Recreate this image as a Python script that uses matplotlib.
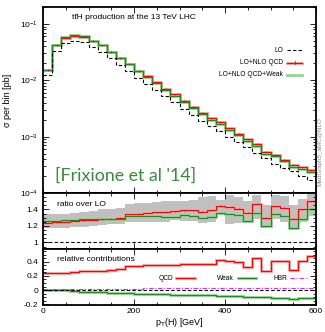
import numpy as np
import matplotlib
matplotlib.use("Agg")
import matplotlib.pyplot as plt
from matplotlib.ticker import MultipleLocator, LogLocator, NullFormatter, FixedLocator
from matplotlib.lines import Line2D

plt.rcParams['font.family'] = ['Liberation Sans', 'DejaVu Sans']

# ---------------- data ----------------
edges = np.arange(0, 620, 20)  # pT(H) bins [GeV]

lo = [0.0123, 0.0337, 0.0458, 0.0494, 0.0471, 0.0392, 0.0324, 0.0245, 0.0190, 0.01476,
      0.01094, 0.00869, 0.00675, 0.00516, 0.00410, 0.00309, 0.00240, 0.00193, 0.00152, 0.00125,
      0.000986, 0.000794, 0.000661, 0.000508, 0.000418, 0.000333, 0.000275, 0.000247, 0.000204, 0.000168]

ratio_qcd = [1.24, 1.245, 1.25, 1.26, 1.27, 1.275, 1.28, 1.29, 1.30, 1.345,
             1.35, 1.36, 1.365, 1.37, 1.38, 1.39, 1.39, 1.37, 1.39, 1.444,
             1.43, 1.41, 1.36, 1.47, 1.30, 1.44, 1.42, 1.29, 1.40, 1.50]

ratio_qcd_weak = [1.26, 1.265, 1.27, 1.275, 1.28, 1.28, 1.285, 1.29, 1.29, 1.32,
                  1.32, 1.32, 1.32, 1.31, 1.31, 1.33, 1.32, 1.30, 1.31, 1.36,
                  1.35, 1.33, 1.26, 1.36, 1.20, 1.34, 1.32, 1.17, 1.29, 1.40]

band_low = [1.17, 1.17, 1.18, 1.19, 1.19, 1.20, 1.21, 1.22, 1.22, 1.25,
            1.25, 1.25, 1.25, 1.25, 1.27, 1.26, 1.26, 1.24, 1.25, 1.33,
            1.22, 1.24, 1.23, 1.28, 1.17, 1.28, 1.25, 1.15, 1.25, 1.32]
band_high = [1.34, 1.34, 1.35, 1.36, 1.37, 1.38, 1.40, 1.41, 1.42, 1.47,
             1.48, 1.48, 1.49, 1.50, 1.50, 1.50, 1.52, 1.55, 1.56, 1.52,
             1.58, 1.55, 1.50, 1.58, 1.45, 1.58, 1.56, 1.45, 1.53, 1.60]

rel_qcd = [0.235, 0.24, 0.245, 0.255, 0.265, 0.27, 0.275, 0.285, 0.295, 0.335,
           0.34, 0.35, 0.355, 0.36, 0.35, 0.365, 0.37, 0.366, 0.366, 0.42,
           0.41, 0.40, 0.32, 0.455, 0.27, 0.41, 0.41, 0.28, 0.41, 0.48]
rel_weak = [0.005, 0.0, -0.005, -0.01, -0.02, -0.025, -0.03, -0.035, -0.04, -0.045,
            -0.05, -0.055, -0.058, -0.06, -0.062, -0.065, -0.068, -0.07, -0.075, -0.08,
            -0.085, -0.09, -0.093, -0.096, -0.10, -0.11, -0.115, -0.12, -0.115, -0.105]
rel_hbr = [0.015, 0.016, 0.017, 0.018, 0.018, 0.019, 0.020, 0.020, 0.021, 0.022,
           0.022, 0.023, 0.024, 0.024, 0.025, 0.025, 0.026, 0.026, 0.027, 0.027,
           0.028, 0.028, 0.029, 0.029, 0.030, 0.030, 0.030, 0.031, 0.031, 0.031]

# ---------------- style ----------------
RED = '#ff0000'
LRED = '#ffa0a0'
GREEN = '#1e8c1e'
LGREEN = '#92d492'
PURPLE = '#cc33ff'
FS = 6
LW = 0.8
BW = 2.0

W, H = 325, 332
fig = plt.figure(figsize=(W / 100, H / 100), dpi=100)
left, width = 43 / W, 273 / W
ax1 = fig.add_axes([left, 1 - 193 / H, width, 186 / H])
ax2 = fig.add_axes([left, 1 - 249 / H, width, 56 / H], sharex=ax1)
ax3 = fig.add_axes([left, 1 - 305 / H, width, 56 / H], sharex=ax1)

lo_a = np.array(lo)
rq = np.array(ratio_qcd)
rw = np.array(ratio_qcd_weak)
nlo_qcd = lo_a * rq
nlo_qcdw = lo_a * rw
centers = 0.5 * (edges[:-1] + edges[1:])

# main panel
ax1.stairs(nlo_qcd, edges, color=LRED, lw=BW, baseline=None)
ax1.stairs(nlo_qcdw, edges, color=LGREEN, lw=BW, baseline=None)
ax1.stairs(nlo_qcd, edges, color=RED, lw=LW, baseline=None)
ax1.errorbar(centers, nlo_qcd, yerr=0.03 * nlo_qcd, fmt='none', ecolor=RED, elinewidth=0.6)
ax1.stairs(nlo_qcdw, edges, color=GREEN, lw=LW, baseline=None)
ax1.stairs(lo_a, edges, color='black', lw=0.8, ls=(0, (3, 2)), baseline=None)
ax1.set_yscale('log')
ax1.set_ylim(1e-4, 0.2)
ax1.set_xlim(0, 600)
ax1.set_ylabel('σ per bin [pb]', fontsize=FS + 0.5, labelpad=6)
ax1.text(0.105, 0.945, 'tt\u0304H production at the 13 TeV LHC', transform=ax1.transAxes,
         ha='left', va='center', fontsize=FS, family=['Liberation Sans', 'DejaVu Sans'])
ax1.text(0.045, 0.095, "[Frixione et al '14]", transform=ax1.transAxes, ha='left', va='center',
         fontsize=12.8, color='#3a8a3a', family=['Lato', 'DejaVu Sans'])

# legend (manual)
leg_y = [50, 62.5, 75]
leg_lab = ['LO', 'LO+NLO QCD', 'LO+NLO QCD+Weak']
for yy, lab in zip(leg_y, leg_lab):
    fig.text(283 / W, 1 - yy / H, lab, ha='right', va='center', fontsize=FS - 1.2)
fig.add_artist(Line2D([287 / W, 302 / W], [1 - 50 / H] * 2, color='black', lw=0.8, ls=(0, (3, 2))))
fig.add_artist(Line2D([287 / W, 302 / W], [1 - 62.5 / H] * 2, color=LRED, lw=BW))
fig.add_artist(Line2D([287 / W, 302 / W], [1 - 62.5 / H] * 2, color=RED, lw=LW))
fig.add_artist(Line2D([294.5 / W, 294.5 / W], [1 - 61 / H, 1 - 64 / H], color=RED, lw=0.6))
fig.add_artist(Line2D([287 / W, 302 / W], [1 - 75 / H] * 2, color=LGREEN, lw=BW))

# watermark
fig.text(320 / W, 1 - 152 / H, 'MadGraph5_aMC@NLO', rotation=90, ha='center', va='center',
         fontsize=4.5, color='#8c8c8c')

# ratio panel
ax2.stairs(band_high, edges, baseline=band_low, fill=True, color='#c0c0c0', lw=0)
ax2.stairs(rq, edges, color=LRED, lw=BW, baseline=None)
ax2.stairs(rw, edges, color=LGREEN, lw=BW, baseline=None)
ax2.stairs(rq, edges, color=RED, lw=LW, baseline=None)
ax2.errorbar(centers, rq, yerr=0.006, fmt='none', ecolor=RED, elinewidth=0.6)
ax2.stairs(rw, edges, color=GREEN, lw=LW, baseline=None)
ax2.axhline(1.0, color='black', lw=0.8, ls=(0, (3, 2)))
ax2.set_ylim(0.92, 1.6)
ax2.yaxis.set_major_locator(FixedLocator([1.0, 1.2, 1.4]))
ax2.yaxis.set_minor_locator(MultipleLocator(0.05))
ax2.set_yticklabels(['1', '1.2', '1.4'])
ax2.text(0.05, 0.80, 'ratio over LO', transform=ax2.transAxes, fontsize=FS, ha='left', va='center')

# relative contributions panel
rq_rel = np.array(rel_qcd)
rw_rel = np.array(rel_weak)
rh_rel = np.array(rel_hbr)
ax3.stairs(rq_rel, edges, color=LRED, lw=BW, baseline=None)
ax3.stairs(rw_rel, edges, color=LGREEN, lw=BW, baseline=None)
ax3.stairs(rq_rel, edges, color=RED, lw=LW, baseline=None)
ax3.stairs(rw_rel, edges, color=GREEN, lw=LW, baseline=None)
ax3.stairs(rh_rel, edges, color=PURPLE, lw=LW, ls=(0, (4, 1.5, 1, 1.5)), baseline=None)
ax3.axhline(0.0, color='black', lw=0.8, ls=(0, (3, 2)))
ax3.set_ylim(-0.21, 0.58)
ax3.yaxis.set_major_locator(FixedLocator([-0.2, 0.0, 0.2, 0.4]))
ax3.yaxis.set_minor_locator(MultipleLocator(0.05))
ax3.set_yticklabels(['-0.2', '0', '0.2', '0.4'])
ax3.text(0.05, 0.82, 'relative contributions', transform=ax3.transAxes, fontsize=FS, ha='left', va='center')
# legend row
ly = 1 - 278 / H
fig.text(173 / W, ly, 'QCD', ha='right', va='center', fontsize=FS - 1.2)
fig.add_artist(Line2D([176 / W, 195 / W], [ly] * 2, color=LRED, lw=BW))
fig.add_artist(Line2D([176 / W, 195 / W], [ly] * 2, color=RED, lw=LW))
fig.text(234 / W, ly, 'Weak', ha='right', va='center', fontsize=FS - 1.2)
fig.add_artist(Line2D([238 / W, 256 / W], [ly] * 2, color=LGREEN, lw=BW))
fig.add_artist(Line2D([238 / W, 256 / W], [ly] * 2, color=GREEN, lw=LW))
fig.text(287 / W, ly, 'HBR', ha='right', va='center', fontsize=FS - 1.2)
fig.add_artist(Line2D([290 / W, 308 / W], [ly] * 2, color=PURPLE, lw=LW, ls=(0, (4, 1.5, 1, 1.5))))

ax3.set_xlabel(r'p$_{\rm T}$(H) [GeV]', fontsize=FS + 0.5, labelpad=1)
ax3.xaxis.set_major_locator(MultipleLocator(200))
ax3.xaxis.set_minor_locator(MultipleLocator(50))

for ax in (ax1, ax2, ax3):
    ax.tick_params(which='both', direction='in', top=True, right=True, labelsize=FS, width=0.6)
    ax.tick_params(which='major', length=4)
    ax.tick_params(which='minor', length=2)
    for s in ax.spines.values():
        s.set_linewidth(1.3)
ax3.tick_params(axis='x', pad=2)
ax1.yaxis.set_major_locator(LogLocator(base=10, numticks=10))
ax1.yaxis.set_minor_locator(LogLocator(base=10, subs=np.arange(2, 10), numticks=10))
ax1.yaxis.set_minor_formatter(NullFormatter())
plt.setp(ax1.get_xticklabels(), visible=False)
plt.setp(ax2.get_xticklabels(), visible=False)

fig.savefig('out.png', dpi=100)
